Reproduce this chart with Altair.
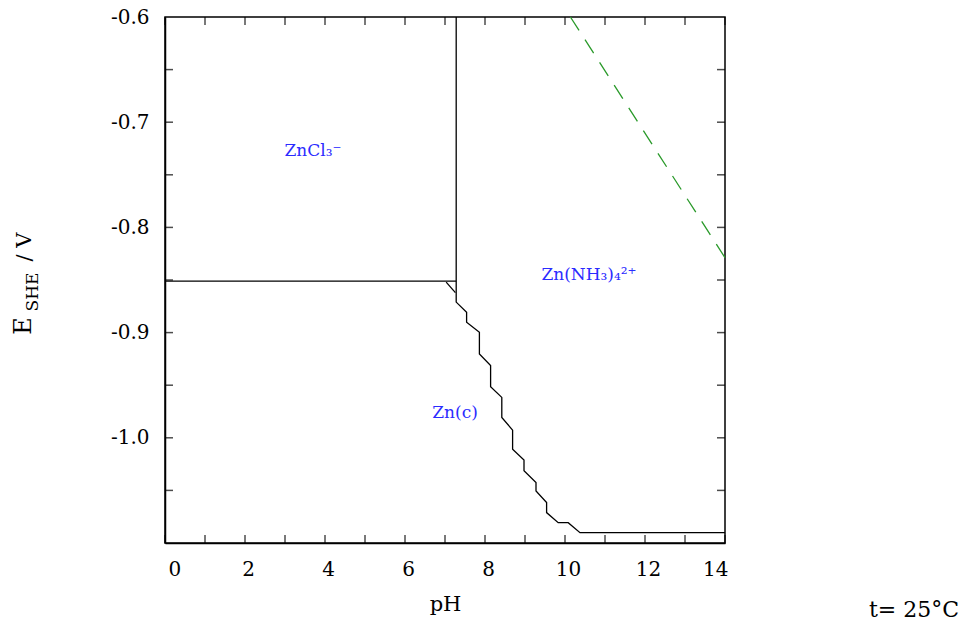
import altair as alt
import pandas as pd

# ---- data ----
# boundary ZnCl3- / Zn(c)
segA_ph = [0.0, 7.28]
segA_e = [-0.851, -0.851]
# boundary ZnCl3- / Zn(NH3)4 2+
segB_ph = [7.28, 7.28]
segB_e = [-0.6, -0.851]
# staircase boundary Zn(c) / Zn(NH3)4 2+
segC_ph = [7.28, 7.28, 7.54, 7.54, 7.86, 7.86, 8.14, 8.14, 8.42, 8.42, 8.69, 8.69,
           8.975, 8.975, 9.275, 9.275, 9.54, 9.54, 9.83, 10.08, 10.375, 14.0]
segC_e = [-0.851, -0.871, -0.8807, -0.8902, -0.8997, -0.9203, -0.9314, -0.9514,
          -0.9616, -0.9807, -0.9927, -1.0108, -1.0212, -1.0314, -1.0426, -1.0505,
          -1.0616, -1.0711, -1.0807, -1.0807, -1.0902, -1.0902]
# small diagonal near the triple point
segD_ph = [7.03, 7.26]
segD_e = [-0.852, -0.862]
# water (H2) line, dashed green
h2_ph = [10.135, 14.0]
h2_e = [-0.6, -0.8288]

species = ["ZnCl₃⁻", "Zn(NH₃)₄²⁺", "Zn(c)"]
species_ph = [3.7, 10.6, 7.25]
species_e = [-0.727, -0.845, -0.976]

x_label_values = [0, 2, 4, 6, 8, 10, 12, 14]
y_label_values = [-0.6, -0.7, -0.8, -0.9, -1.0]
x_tick_values = list(range(0, 15))
y_tick_values = [-1.05, -1.0, -0.95, -0.9, -0.85, -0.8, -0.75, -0.7, -0.65]

# ---- tables ----
rows = []
for name, phs, es in [("A", segA_ph, segA_e), ("B", segB_ph, segB_e),
                      ("C", segC_ph, segC_e), ("D", segD_ph, segD_e)]:
    for i, (p, e) in enumerate(zip(phs, es)):
        rows.append({"seg": name, "i": i, "pH": p, "E": e})
bound_df = pd.DataFrame(rows)
h2_df = pd.DataFrame({"pH": h2_ph, "E": h2_e, "i": range(len(h2_ph))})
lab_df = pd.DataFrame({"pH": species_ph, "E": species_e, "label": species})
xt_df = pd.DataFrame({"pH": x_tick_values})
yt_df = pd.DataFrame({"E": y_tick_values})

W, H = 560, 526
FONT = "DejaVu Serif"

xscale = alt.Scale(domain=[0, 14], nice=False, zero=False)
yscale = alt.Scale(domain=[-1.1, -0.6], nice=False, zero=False)

xaxis = alt.Axis(values=x_label_values, ticks=False, grid=False, domainColor="black",
                 domainWidth=1.5, labelFont=FONT, labelFontSize=20, labelColor="black",
                 labelPadding=16, labelOffset=3, title="pH", titleFont=FONT,
                 titleFontSize=21, titleFontWeight="normal", titleColor="black",
                 titlePadding=14)
yaxis = alt.Axis(values=y_label_values, ticks=False, grid=False, domainColor="black",
                 domainWidth=1.5, labelFont=FONT, labelFontSize=20, labelColor="black",
                 labelPadding=16,
                 labelExpr="replace(format(datum.value, '.1f'), '−', '-')",
                 title=None)

bounds = alt.Chart(bound_df).mark_line(color="black", strokeWidth=1.3).encode(
    x=alt.X("pH:Q", scale=xscale, axis=xaxis),
    y=alt.Y("E:Q", scale=yscale, axis=yaxis),
    detail="seg:N",
    order="i:Q",
)

h2 = alt.Chart(h2_df).mark_line(color="#2a9a2a", strokeWidth=1.3, strokeDash=[16, 11]).encode(
    x=alt.X("pH:Q", scale=xscale),
    y=alt.Y("E:Q", scale=yscale),
    order="i:Q",
)

labels = alt.Chart(lab_df).mark_text(color="#2b2bff", font=FONT, fontSize=17,
                                     align="center", baseline="middle").encode(
    x=alt.X("pH:Q", scale=xscale),
    y=alt.Y("E:Q", scale=yscale),
    text="label:N",
)

tick_bottom = alt.Chart(xt_df).mark_tick(orient="vertical", color="black", size=8,
                                         thickness=1.5).encode(
    x=alt.X("pH:Q", scale=xscale), y=alt.value(H - 4))
tick_top = alt.Chart(xt_df).mark_tick(orient="vertical", color="black", size=8,
                                      thickness=1.5).encode(
    x=alt.X("pH:Q", scale=xscale), y=alt.value(4))
tick_left = alt.Chart(yt_df).mark_tick(orient="horizontal", color="black", size=8,
                                       thickness=1.5).encode(
    y=alt.Y("E:Q", scale=yscale), x=alt.value(4))
tick_right = alt.Chart(yt_df).mark_tick(orient="horizontal", color="black", size=8,
                                        thickness=1.5).encode(
    y=alt.Y("E:Q", scale=yscale), x=alt.value(W - 4))

one = alt.Data(values=[{"k": 1}])
ttl_E = alt.Chart(one).mark_text(text="E", font=FONT, fontSize=24, angle=270,
                                 align="center", baseline="middle", color="black").encode(
    x=alt.value(-141), y=alt.value(309))
ttl_S = alt.Chart(one).mark_text(text="SHE", font=FONT, fontSize=17, angle=270,
                                 align="center", baseline="middle", color="black").encode(
    x=alt.value(-132), y=alt.value(275))
ttl_V = alt.Chart(one).mark_text(text="/ V", font=FONT, fontSize=21, angle=270,
                                 align="center", baseline="middle", color="black").encode(
    x=alt.value(-140), y=alt.value(230))
temp = alt.Chart(one).mark_text(text="t= 25°C", font=FONT, fontSize=22,
                                align="center", baseline="middle", color="black").encode(
    x=alt.value(749), y=alt.value(593))

chart = alt.layer(bounds, h2, labels, tick_bottom, tick_top, tick_left, tick_right,
                  ttl_E, ttl_S, ttl_V, temp).properties(
    width=W, height=H,
    autosize=alt.AutoSizeParams(type="none"),
    padding={"left": 165, "top": 17, "right": 244, "bottom": 82},
    background="white",
).configure_view(stroke="black", strokeWidth=1.5)

chart.save("out.html", embed_options={"renderer": "svg", "actions": False})
